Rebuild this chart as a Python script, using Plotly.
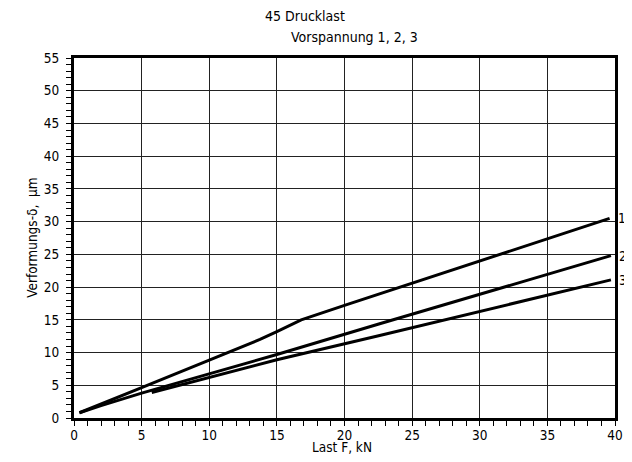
import plotly.graph_objects as go

# Data
F1 = [0.4, 2, 5, 10, 13.75, 15, 16.8, 20, 25, 30, 35, 39.6]
D1 = [0.8, 2.1, 4.65, 8.85, 12.0, 13.2, 15.0, 17.2, 20.6, 24.0, 27.3, 30.5]

F2 = [0.4, 2, 5, 10, 15, 22.6, 30, 35, 39.7]
D2 = [0.8, 1.9, 3.8, 6.8, 9.7, 14.4, 18.9, 21.9, 24.8]

F3 = [5.75, 10, 13.75, 15, 22.6, 30, 35, 39.7]
D3 = [3.9, 6.2, 8.25, 8.9, 12.6, 16.3, 18.8, 21.1]

series = [("1", F1, D1), ("2", F2, D2), ("3", F3, D3)]

x_ticks = [0, 5, 10, 15, 20, 25, 30, 35, 40]
y_ticks = [0, 5, 10, 15, 20, 25, 30, 35, 40, 45, 50, 55]

FONT = "DejaVu Sans Condensed, Liberation Sans, sans-serif"
FS = 13.5

fig = go.Figure()
for name, xs, ys in series:
    fig.add_trace(go.Scatter(x=xs, y=ys, mode="lines", name=name,
                             line=dict(color="black", width=3),
                             showlegend=False))
    # curve label just right of the curve end, outside the frame
    fig.add_annotation(x=xs[-1], y=ys[-1], xref="x", yref="y", text=name,
                       showarrow=False, xanchor="left", xshift=6,
                       font=dict(size=FS, color="black", family=FONT))

axis_common = dict(showgrid=True, gridcolor="#222", gridwidth=1,
                   showline=True, linecolor="black", linewidth=3, mirror=True,
                   ticks="outside", ticklen=5, tickwidth=1, tickcolor="black",
                   zeroline=False, automargin=False,
                   tickfont=dict(size=FS, color="black", family=FONT),
                   minor=dict(dtick=1, ticks="outside", ticklen=5,
                              tickcolor="black", tickwidth=1, showgrid=False))

fig.update_xaxes(range=[0, 40], tickvals=x_ticks, ticktext=[str(v) for v in x_ticks],
                 ticklabelstandoff=-2, **axis_common)
fig.update_yaxes(range=[0, 55], tickvals=y_ticks, ticktext=[str(v) for v in y_ticks],
                 ticklabelstandoff=4, **axis_common)

# axis titles
fig.add_annotation(x=0.496, y=-0.08, xref="paper", yref="paper", text="Last F, kN",
                   showarrow=False, xanchor="center", yanchor="middle",
                   font=dict(size=FS, color="black", family=FONT))
fig.add_annotation(x=-0.078, y=0.5, xref="paper", yref="paper", text="Verformungs-δ,  µm",
                   showarrow=False, xanchor="center", yanchor="middle", textangle=-90,
                   font=dict(size=FS, color="black", family=FONT))

# headings
fig.add_annotation(x=0.427, y=1.117, xref="paper", yref="paper", text="45 Drucklast",
                   showarrow=False, xanchor="center", yanchor="middle",
                   font=dict(size=14, color="black", family=FONT))
fig.add_annotation(x=0.518, y=1.058, xref="paper", yref="paper", text="Vorspannung 1, 2, 3",
                   showarrow=False, xanchor="center", yanchor="middle",
                   font=dict(size=14, color="black", family=FONT))

# the page body has an 8px margin on every side: the figure is sized so the
# page never overflows the 632x462 window (no scrollbars covering the right edge)
fig.update_layout(width=616, height=446,
                  margin=dict(l=66, r=9, t=50, b=36),
                  plot_bgcolor="white", paper_bgcolor="white",
                  font=dict(family=FONT, color="black"))

fig.write_html("out.html")
